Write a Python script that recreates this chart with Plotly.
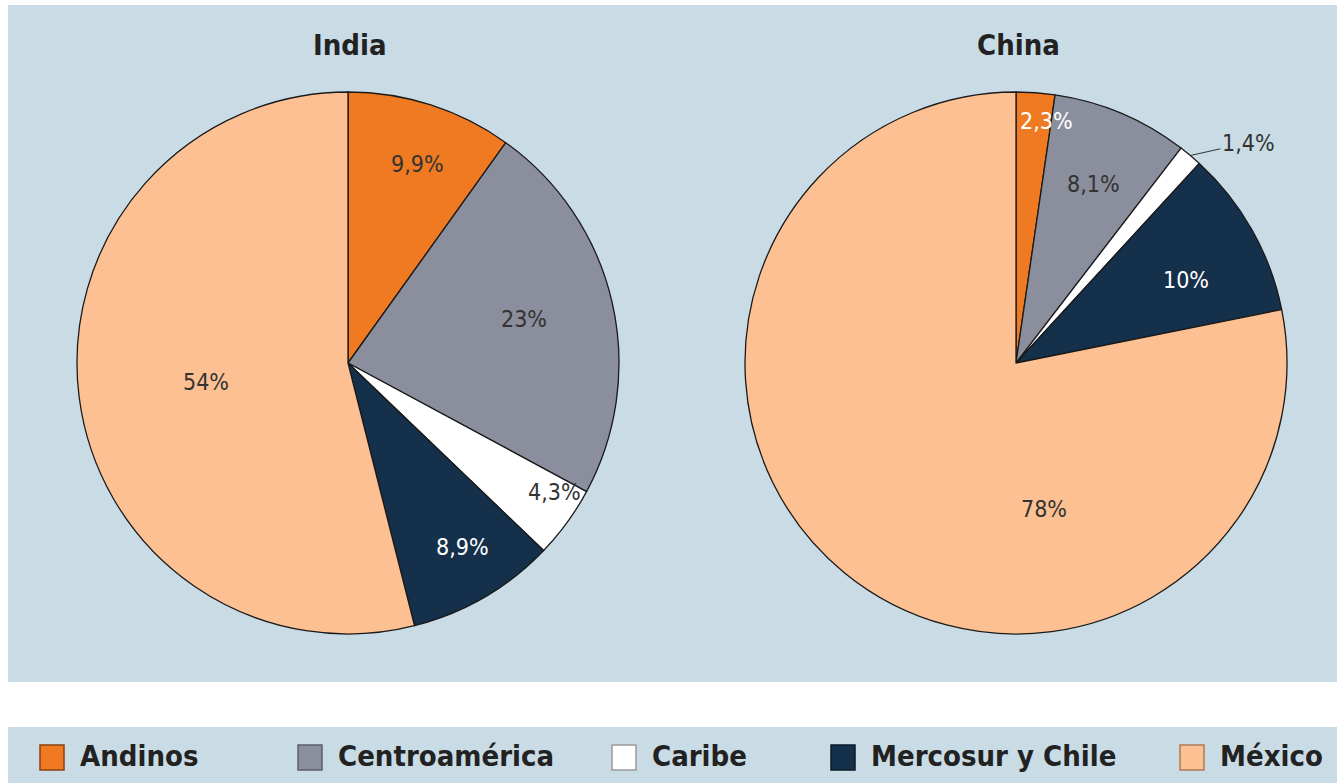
import math
import plotly.graph_objects as go

W, H = 1337, 783

categories = ["Andinos", "Centroamérica", "Caribe", "Mercosur y Chile", "México"]
india_values = [9.9, 23, 4.3, 8.9, 54]
china_values = [2.3, 8.1, 1.4, 10, 78]
india_labels = ["9,9%", "23%", "4,3%", "8,9%", "54%"]
china_labels = ["2,3%", "8,1%", "1,4%", "10%", "78%"]
titles = ["India", "China"]

colors = ["#f07a22", "#8b8e9d", "#ffffff", "#15304b", "#fcc092"]
legend_edge = ["#8a4010", "#5c5f6c", "#9a9a9a", "#0b1a2a", "#b07a55"]
BG = "#c9dce5"
FONT = "DejaVu Sans Condensed, Liberation Sans Narrow, Liberation Sans, sans-serif"

# label placement styles: (radial fraction, angle offset in degrees)
india_lab_style = [(0.78, 1.5), (0.67, -1), (0.90, -4), (0.80, -1.6), (0.53, -0.6)]
china_lab_style = [(0.90, 3), (0.72, 0.5), (None, 0), (0.70, 3.3), (0.55, -50)]
india_text_col = ["#333333", "#333333", "#333333", "#ffffff", "#333333"]
china_text_col = ["#ffffff", "#333333", "#333333", "#ffffff", "#333333"]

# legend key left edges (pixels)
legend_key_x = [40, 298, 612, 831, 1180]

# pie geometry (pixels)
R = 271
centers = [(348, 363), (1016, 363)]


def px(x, y):
    """pixel -> paper coords"""
    return x / W, 1 - y / H


fig = go.Figure()

# background panels
x0, y1 = px(8, 5)
x1, y0 = px(1337, 682)
fig.add_shape(type="rect", xref="paper", yref="paper",
              x0=x0, x1=1, y0=y0, y1=y1,
              fillcolor=BG, line_width=0, layer="below")
_, ly1 = px(0, 727)
fig.add_shape(type="rect", xref="paper", yref="paper",
              x0=x0, x1=1, y0=0, y1=ly1,
              fillcolor=BG, line_width=0, layer="below")

for i, (vals, (cx, cy)) in enumerate(zip([india_values, china_values], centers)):
    dx0, dy1 = px(cx - R, cy - R)
    dx1, dy0 = px(cx + R, cy + R)
    fig.add_trace(go.Pie(
        labels=categories, values=vals, sort=False, direction="clockwise",
        rotation=0, textinfo="none", hoverinfo="label+percent",
        marker=dict(colors=colors, line=dict(color="#1a1a1a", width=1.3)),
        domain=dict(x=[dx0, dx1], y=[dy0, dy1]),
        showlegend=False, name=titles[i],
    ))

annotations = []
for vals, labs, styles, tcols, (cx, cy), title in zip(
        [india_values, china_values], [india_labels, china_labels],
        [india_lab_style, china_lab_style], [india_text_col, china_text_col],
        centers, titles):
    tot = sum(vals)
    cum = 0
    for v, lab, (frac, off), tc in zip(vals, labs, styles, tcols):
        mid = (cum + v / 2) / tot * 360
        cum += v
        if frac is None:
            a = math.radians(mid)
            ex, ey = cx + R * math.sin(a), cy - R * math.cos(a)
            x, y = px(ex, ey)
            annotations.append(dict(
                x=x, y=y, xref="paper", yref="paper", text=lab,
                xanchor="center", yanchor="middle",
                showarrow=True, arrowhead=0, arrowwidth=1, arrowcolor="#333333",
                ax=58, ay=-13, font=dict(family=FONT, size=23, color=tc)))
            continue
        a = math.radians(mid + off)
        lx, ly = cx + frac * R * math.sin(a), cy - frac * R * math.cos(a)
        x, y = px(lx, ly)
        annotations.append(dict(
            x=x, y=y, xref="paper", yref="paper", text=lab, showarrow=False,
            xanchor="center", yanchor="middle",
            font=dict(family=FONT, size=23, color=tc)))
    tx, ty = px(cx + 2, 45)
    annotations.append(dict(
        x=tx, y=ty, xref="paper", yref="paper", text=title, showarrow=False,
        xanchor="center", yanchor="middle",
        font=dict(family=FONT, size=29, color="#222222", weight="bold")))

# legend (keys + names) built from the category / colour lists
for name, col, edge, kx in zip(categories, colors, legend_edge, legend_key_x):
    ka, kb = px(kx, 745)
    kc, kd = px(kx + 24, 770)
    fig.add_shape(type="rect", xref="paper", yref="paper",
                  x0=ka, x1=kc, y0=kd, y1=kb,
                  fillcolor=col, line=dict(color=edge, width=1.5))
    tx, ty = px(kx + 38, 756)
    annotations.append(dict(
        x=tx, y=ty, xref="paper", yref="paper", text=name, showarrow=False,
        xanchor="left", yanchor="middle",
        font=dict(family=FONT, size=29, color="#222222", weight="bold")))

fig.update_layout(
    width=W, height=H,
    margin=dict(l=0, r=0, t=0, b=0),
    paper_bgcolor="white", plot_bgcolor="white",
    annotations=annotations,
    showlegend=False,
)

fig.write_html(
    "out.html",
    config={"displayModeBar": False},
    post_script="document.body.style.margin='0';"
                "document.body.style.overflow='hidden';",
)
